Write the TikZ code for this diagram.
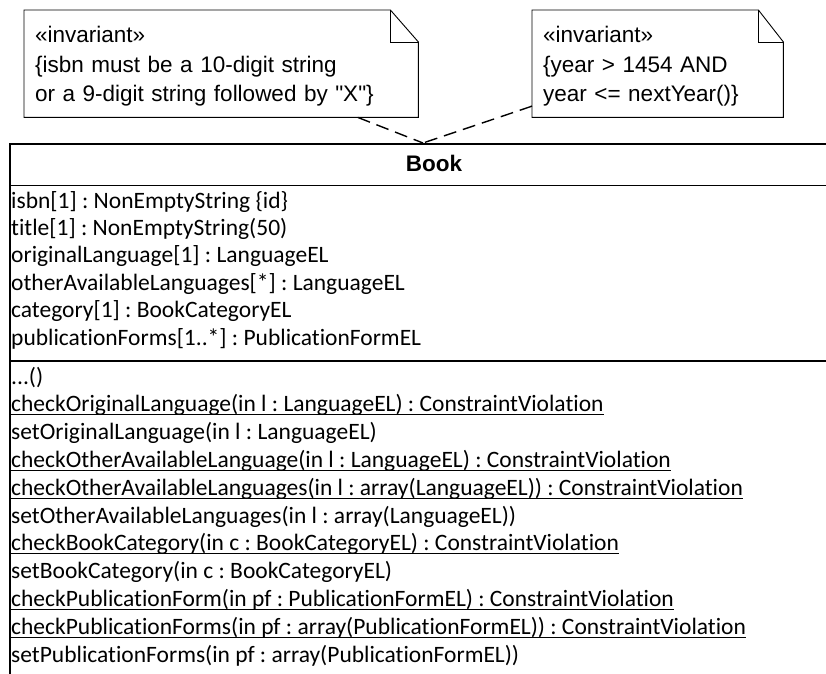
\documentclass[tikz,border=0pt]{standalone}
\usepackage{fontspec}
\setmainfont{Liberation Sans}[Ligatures=TeXOff]
\newfontfamily\calibri{Carlito}[Ligatures={NoCommon,NoContextual}]
\usetikzlibrary{positioning,calc}

\newcommand\notefont{\frenchspacing\fontsize{22.5}{29.5}\selectfont}
\newcommand\memberfont{\frenchspacing\calibri\fontsize{23.5}{28.2}\selectfont}
\newcommand\opdots{.\kern0pt.\kern0pt.}
\newcommand\notestrut{\rule{0pt}{21.5pt}}

\begin{document}
\begin{tikzpicture}[x=1pt, y=-1pt,
note/.style ={rectangle, inner xsep=11pt, inner ysep=0pt, align=left, font=\notefont},
noteline/.style ={draw=black, line width=0.9pt, line join=miter},
classbox/.style ={rectangle, draw=black, line width=1.5pt, anchor=north west},
classline/.style ={line width=1.5pt},
member/.style ={anchor=base west, inner sep=0pt, font=\memberfont},
anchorline/.style ={dash pattern=on 13pt off 7pt, line width=1.4pt},
opunder/.style ={line width=1.3pt},
]

\useasboundingbox (0,0) rectangle (826,673);
\clip (0,0) rectangle (826,673);

% notes
\node (isbnnote) [note, anchor=north west, text width=372pt, minimum height=107pt] at (24,10)
  {\notestrut«invariant»\\\{isbn must be a 10-digit string\\or a 9-digit string followed by "X"\}};
\node (yearnote) [note, anchor=north west, text width=229pt, minimum height=107pt] at (532,10)
  {\notestrut«invariant»\\\{year > 1454 AND\\year <= nextYear()\}};

\foreach \n/\f in {isbnnote/28, yearnote/25} {
  \draw[noteline] (\n.north west) -- ([xshift=-\f pt]\n.north east) -- ([yshift=-32pt]\n.north east)
    -- (\n.south east) -- (\n.south west) -- cycle;
  \draw[noteline] ([xshift=-\f pt]\n.north east) |- ([yshift=-32pt]\n.north east);
}

% class Book
\node (bookclass) [classbox, minimum width=851pt, minimum height=600pt] at (9,143) {};
\node (booktitle) [anchor=base, inner sep=0pt, font=\notefont\bfseries] at (434,171.5) {Book};
\draw[classline] (bookclass.west |- 0,185.7) -- (bookclass.east |- 0,185.7);
\draw[classline] (bookclass.west |- 0,361) -- (bookclass.east |- 0,361);

\foreach \txt [count=\i] in {
  {isbn[1] : NonEmptyString \{id\}},
  {title[1] : NonEmptyString(50)},
  {originalLanguage[1] : LanguageEL},
  {otherAvailableLanguages[*] : LanguageEL},
  {category[1] : BookCategoryEL},
  {publicationForms[1..*] : PublicationFormEL}}
  \node (attr\i) [member] at (11,{208+27.4*(\i-1)}) {\txt};

\foreach \txt/\u [count=\i] in {
  \opdots()/0,
  checkOriginalLanguage(in l : LanguageEL) : ConstraintViolation/1,
  setOriginalLanguage(in l : LanguageEL)/0,
  checkOtherAvailableLanguage(in l : LanguageEL) : ConstraintViolation/1,
  checkOtherAvailableLanguages(in l : array(LanguageEL)) : ConstraintViolation/1,
  setOtherAvailableLanguages(in l : array(LanguageEL))/0,
  checkBookCategory(in c : BookCategoryEL) : ConstraintViolation/1,
  setBookCategory(in c : BookCategoryEL)/0,
  checkPublicationForm(in pf : PublicationFormEL) : ConstraintViolation/1,
  checkPublicationForms(in pf : array(PublicationFormEL)) : ConstraintViolation/1,
  setPublicationForms(in pf : array(PublicationFormEL))/0} {
  \node (op\i) [member] at (11,{384+27.8*(\i-1)}) {\txt};
  \ifnum\u=1
    \draw[opunder] ([yshift=-3pt]op\i.base west) -- ([yshift=-3pt]op\i.base east);
  \fi
}

% anchors of the notes
\coordinate (bookjoin) at (423,143);
\draw[anchorline] (isbnnote) -- (bookjoin);
\draw[anchorline] (yearnote) -- (bookjoin);

\end{tikzpicture}
\end{document}
